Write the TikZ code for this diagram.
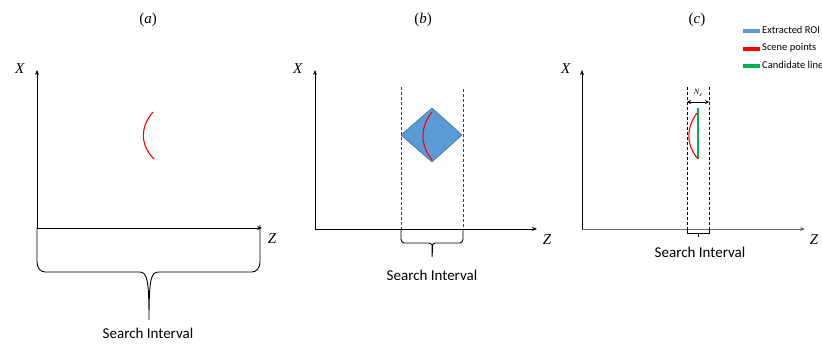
\documentclass[tikz,border=0pt]{standalone}
\usepackage{fontspec}
\setmainfont{Carlito}
\newfontfamily\labfont{Liberation Serif}
\usetikzlibrary{arrows.meta}
\definecolor{roiblue}{HTML}{5B9BD5}
\definecolor{roiedge}{HTML}{41719C}
\definecolor{scenered}{HTML}{FF0000}
\definecolor{candgreen}{HTML}{00B050}
\tikzset{
  axis/.style={line width=0.9pt,-{Stealth[length=5pt,width=4pt]}},
  lab/.style={inner sep=0pt,font=\labfont\fontsize{15}{17}\selectfont},
  sitext/.style={inner sep=0pt,font=\fontsize{15}{17}\selectfont},
  legtext/.style={inner sep=0pt,anchor=west,font=\fontsize{10.5}{12}\selectfont},
  brace/.style={line width=0.9pt},
  guide/.style={dashed,line width=0.8pt,dash pattern=on 3pt off 2pt},
  arc/.style={scenered,line width=1.1pt},
  legline/.style={line width=3.5pt}
}
\begin{document}
\begin{tikzpicture}[x=1pt,y=-1pt]
\useasboundingbox (0,0) rectangle (822,344);
% ---------- panel (a)
\node[lab] (ta) at (148,20) {(\textit{a})};
\coordinate (oa) at (37,228);
\coordinate (xa) at (37,70);
\coordinate (za) at (262,228);
\draw[axis] (oa) -- (xa);
\draw[axis] (oa) -- (za);
\node[lab] (lxa) at (20,69) {\textit{X}};
\node[lab] (lza) at (272,239) {\textit{Z}};
\draw[arc] (153,112) .. controls (140,127) and (140,145) .. (154,159);
\coordinate (ba) at (149,320);
\draw[brace] (oa) -- (37,262) to[out=-90,in=180] (45,272) -- (139,272)
  .. controls (147,272) and (149,278) .. (ba)
  (ba) .. controls (149,278) and (151,272) .. (159,272) -- (252,272)
  to[out=0,in=-90] (260,262) -- (260,225);
\node[sitext] (sa) at (148,333) {Search Interval};
% ---------- panel (b)
\node[lab] (tb) at (423,20) {(\textit{b})};
\coordinate (ob) at (315,229);
\coordinate (xb) at (315,70);
\coordinate (zb) at (537,229);
\draw[axis] (ob) -- (xb);
\draw[axis] (ob) -- (zb);
\node[lab] (lxb) at (298,69) {\textit{X}};
\node[lab] (lzb) at (547,240) {\textit{Z}};
\draw[guide,black!75] (401,87) -- (401,229);
\draw[guide,black!75] (463,89) -- (463,229);
\draw[fill=roiblue,draw=roiedge,line width=0.6pt] (401,135) -- (432,108) -- (462,135) -- (432,162) -- cycle;
\draw[arc] (432,112) .. controls (420,127) and (420,145) .. (432,160);
\coordinate (bb) at (432,257);
\draw[brace] (401,229) -- (401,239) to[out=-90,in=180] (404,243) -- (429,243)
  to[out=0,in=90] (bb)
  (bb) -- (432,247) to[out=90,in=180] (435,243) -- (460,243)
  to[out=0,in=-90] (463,239) -- (463,229);
\node[sitext] (sb) at (432,275) {Search Interval};
% ---------- panel (c)
\node[lab] (tc) at (697,20) {(\textit{c})};
\coordinate (oc) at (582,229);
\coordinate (xc) at (582,70);
\coordinate (zc) at (805,229);
\draw[axis] (oc) -- (xc);
\draw[axis,black!60] (oc) -- (zc);
\node[lab] (lxc) at (566,69) {\textit{X}};
\node[lab] (lzc) at (814,240) {\textit{Z}};
\draw[guide] (687,87) -- (687,229);
\draw[guide] (709,87) -- (709,229);
\coordinate (nl) at (687,102);
\coordinate (nr) at (709,102);
\draw[line width=0.9pt,{Stealth[length=4pt,width=4pt]}-{Stealth[length=4pt,width=4pt]}] (nl) -- (nr);
\node[inner sep=0pt,font=\labfont\fontsize{8}{9}\selectfont] (nz) at (698,93) {\textit{N}\raisebox{-1.5pt}{\fontsize{6}{7}\selectfont\textit{z}}};
\draw[candgreen,line width=1.4pt] (698,108) -- (698,159);
\draw[arc] (697,113) .. controls (686,128) and (686,145) .. (698,159);
\coordinate (bc) at (698,237);
\draw[brace] (687,229) -- (687,233) -- (709,233) -- (709,229) (698,233) -- (bc);
\node[sitext] (sc) at (700,252) {Search Interval};
% ---------- legend
\draw[legline,roiblue] (743,31) -- (760,31);
\node[legtext] (l1) at (762,30) {Extracted ROI};
\draw[legline,scenered] (743,49) -- (760,49);
\node[legtext] (l2) at (762,48) {Scene points};
\draw[legline,candgreen] (743,66) -- (760,66);
\node[legtext] (l3) at (762,65) {Candidate line};
\end{tikzpicture}
\end{document}
